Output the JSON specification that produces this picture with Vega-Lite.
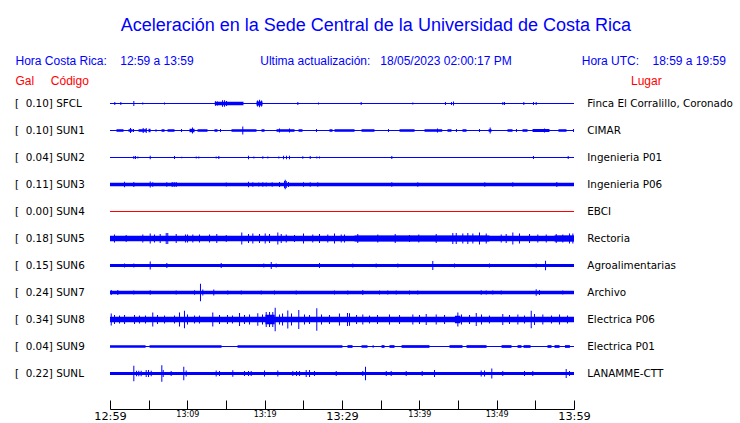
{
  "$schema": "https://vega.github.io/schema/vega-lite/v6.json",
  "width": 464,
  "height": 319,
  "autosize": {"type": "none"},
  "padding": {"left": 110, "top": 90, "right": 166, "bottom": 14},
  "background": "white",
  "title": {"text": "Aceleración en la Sede Central de la Universidad de Costa Rica", "anchor": "start", "frame": "group", "dx": 10.7, "offset": 20, "font": "Liberation Sans", "fontSize": 18, "fontWeight": "normal", "color": "#0000ff"},
  "config": {"view": {"stroke": null}, "axis": {"grid": false}},
  "datasets": {
    "bands": [
      {"s":"SFCL","t0":0,"t1":60,"a":0.015},{"s":"SFCL","t0":13.55,"t1":17.26,"a":0.05},{"s":"SFCL","t0":18.94,"t1":19.72,"a":0.06},
      {"s":"SUN1","t0":0,"t1":60,"a":0.015},
      {"s":"SUN1","t0":0.84,"t1":1.75,"a":0.037},{"s":"SUN1","t0":2.39,"t1":2.91,"a":0.037},{"s":"SUN1","t0":3.69,"t1":4.72,"a":0.037},{"s":"SUN1","t0":4.98,"t1":5.24,"a":0.05},{"s":"SUN1","t0":5.88,"t1":6.01,"a":0.037},{"s":"SUN1","t0":6.66,"t1":7.05,"a":0.037},{"s":"SUN1","t0":7.44,"t1":8.34,"a":0.037},{"s":"SUN1","t0":10.28,"t1":10.93,"a":0.05},{"s":"SUN1","t0":11.32,"t1":12.61,"a":0.037},{"s":"SUN1","t0":13.51,"t1":13.9,"a":0.037},{"s":"SUN1","t0":15.71,"t1":18.94,"a":0.037},{"s":"SUN1","t0":19.59,"t1":19.98,"a":0.037},{"s":"SUN1","t0":21.53,"t1":23.86,"a":0.037},{"s":"SUN1","t0":24.38,"t1":24.89,"a":0.037},{"s":"SUN1","t0":28.38,"t1":28.77,"a":0.037},{"s":"SUN1","t0":29.03,"t1":31.62,"a":0.037},{"s":"SUN1","t0":32.52,"t1":34.2,"a":0.037},{"s":"SUN1","t0":37.44,"t1":39.38,"a":0.037},{"s":"SUN1","t0":40.67,"t1":42.96,"a":0.037},{"s":"SUN1","t0":43.64,"t1":44.16,"a":0.037},{"s":"SUN1","t0":45.58,"t1":46.1,"a":0.037},{"s":"SUN1","t0":48.95,"t1":49.34,"a":0.037},{"s":"SUN1","t0":51.4,"t1":52.05,"a":0.037},{"s":"SUN1","t0":53.34,"t1":53.99,"a":0.037},{"s":"SUN1","t0":54.64,"t1":56.83,"a":0.044},{"s":"SUN1","t0":57.99,"t1":59.03,"a":0.037},
      {"s":"SUN2","t0":0,"t1":60,"a":0.015},
      {"s":"SUN3","t0":0,"t1":60,"a":0.05},
      {"s":"SUN4","t0":0,"t1":60,"a":0.015},
      {"s":"SUN5","t0":0,"t1":60,"a":0.081},{"s":"SUN5","t0":31.62,"t1":49.07,"a":0.09},{"s":"SUN5","t0":57.48,"t1":60,"a":0.09},
      {"s":"SUN6","t0":0,"t1":60,"a":0.044},
      {"s":"SUN7","t0":0,"t1":60,"a":0.049},
      {"s":"SUN8","t0":0,"t1":60,"a":0.078},{"s":"SUN8","t0":20.1,"t1":21.3,"a":0.14},{"s":"SUN8","t0":44.6,"t1":45.3,"a":0.11},
      {"s":"SUN9","t0":0,"t1":60,"a":0.015},
      {"s":"SUN9","t0":0,"t1":4.6,"a":0.04},{"s":"SUN9","t0":5.11,"t1":14.42,"a":0.04},{"s":"SUN9","t0":16.49,"t1":30.06,"a":0.04},{"s":"SUN9","t0":30.71,"t1":31.36,"a":0.04},{"s":"SUN9","t0":32.52,"t1":33.3,"a":0.04},{"s":"SUN9","t0":33.95,"t1":34.1,"a":0.04},{"s":"SUN9","t0":35.11,"t1":35.5,"a":0.04},{"s":"SUN9","t0":36.14,"t1":36.79,"a":0.04},{"s":"SUN9","t0":37.7,"t1":41.31,"a":0.04},{"s":"SUN9","t0":43.9,"t1":45.58,"a":0.04},{"s":"SUN9","t0":46.1,"t1":48.69,"a":0.04},{"s":"SUN9","t0":50.63,"t1":51.92,"a":0.04},{"s":"SUN9","t0":52.7,"t1":53.21,"a":0.04},{"s":"SUN9","t0":53.47,"t1":54.38,"a":0.04},{"s":"SUN9","t0":56.57,"t1":57.09,"a":0.04},{"s":"SUN9","t0":57.48,"t1":58.13,"a":0.04},{"s":"SUN9","t0":58.83,"t1":59.47,"a":0.04},
      {"s":"SUNL","t0":0,"t1":60,"a":0.044}
    ],
    "spikes": [
      {"s":"SFCL","t":0.62,"a":0.044},{"s":"SFCL","t":1.4,"a":0.044},{"s":"SFCL","t":3.08,"a":0.074},{"s":"SFCL","t":4.24,"a":0.03},{"s":"SFCL","t":7.05,"a":0.03},{"s":"SFCL","t":13.64,"a":0.066},{"s":"SFCL","t":13.9,"a":0.059},{"s":"SFCL","t":14.55,"a":0.099},{"s":"SFCL","t":14.81,"a":0.099},{"s":"SFCL","t":15.07,"a":0.074},{"s":"SFCL","t":19.08,"a":0.088},{"s":"SFCL","t":19.34,"a":0.113},{"s":"SFCL","t":19.6,"a":0.088},{"s":"SFCL","t":24.29,"a":0.044},{"s":"SFCL","t":26.96,"a":0.03},{"s":"SFCL","t":32.48,"a":0.044},{"s":"SFCL","t":39.16,"a":0.03},{"s":"SFCL","t":43.38,"a":0.044},{"s":"SFCL","t":44.16,"a":0.044},{"s":"SFCL","t":44.42,"a":0.059},{"s":"SFCL","t":50.8,"a":0.044},{"s":"SFCL","t":51.01,"a":0.044},{"s":"SFCL","t":53.51,"a":0.044},{"s":"SFCL","t":54.76,"a":0.044},{"s":"SFCL","t":55.11,"a":0.044},
      {"s":"SUN1","t":2.65,"a":0.074},{"s":"SUN1","t":4.29,"a":0.074},{"s":"SUN1","t":4.68,"a":0.074},{"s":"SUN1","t":10.67,"a":0.088},{"s":"SUN1","t":17.17,"a":0.118},{"s":"SUN1","t":49.16,"a":0.088},{"s":"SUN1","t":3.04,"a":0.044},{"s":"SUN1","t":9.25,"a":0.044},{"s":"SUN1","t":14.29,"a":0.044},{"s":"SUN1","t":26.7,"a":0.044},{"s":"SUN1","t":36.01,"a":0.044},{"s":"SUN1","t":44.8,"a":0.044},{"s":"SUN1","t":47.78,"a":0.044},{"s":"SUN1","t":52.56,"a":0.044},{"s":"SUN1","t":59.94,"a":0.044},{"s":"SUN1","t":21.92,"a":0.059},{"s":"SUN1","t":23.21,"a":0.059},{"s":"SUN1","t":42.35,"a":0.059},{"s":"SUN1","t":56.19,"a":0.059},
      {"s":"SUN2","t":3.08,"a":0.044},{"s":"SUN2","t":3.3,"a":0.044},{"s":"SUN2","t":3.6,"a":0.03},{"s":"SUN2","t":5.2,"a":0.051},{"s":"SUN2","t":8.34,"a":0.044},{"s":"SUN2","t":9.28,"a":0.022},{"s":"SUN2","t":11.15,"a":0.03},{"s":"SUN2","t":11.48,"a":0.03},{"s":"SUN2","t":13.73,"a":0.03},{"s":"SUN2","t":14.07,"a":0.044},{"s":"SUN2","t":17.91,"a":0.051},{"s":"SUN2","t":18.6,"a":0.03},{"s":"SUN2","t":19.76,"a":0.037},{"s":"SUN2","t":20.41,"a":0.03},{"s":"SUN2","t":21.83,"a":0.03},{"s":"SUN2","t":22.44,"a":0.051},{"s":"SUN2","t":22.82,"a":0.051},{"s":"SUN2","t":23.21,"a":0.051},{"s":"SUN2","t":24.93,"a":0.037},{"s":"SUN2","t":25.89,"a":0.044},{"s":"SUN2","t":26.74,"a":0.03},{"s":"SUN2","t":27.09,"a":0.03},{"s":"SUN2","t":36.44,"a":0.044},{"s":"SUN2","t":54.76,"a":0.044},{"s":"SUN2","t":59.25,"a":0.044},
      {"s":"SUN3","t":1.88,"a":0.084},{"s":"SUN3","t":3.08,"a":0.074},{"s":"SUN3","t":5.2,"a":0.088},{"s":"SUN3","t":5.53,"a":0.066},{"s":"SUN3","t":7.35,"a":0.066},{"s":"SUN3","t":8.04,"a":0.074},{"s":"SUN3","t":8.3,"a":0.074},{"s":"SUN3","t":8.56,"a":0.074},{"s":"SUN3","t":15.03,"a":0.059},{"s":"SUN3","t":17.91,"a":0.081},{"s":"SUN3","t":18.47,"a":0.066},{"s":"SUN3","t":19.24,"a":0.059},{"s":"SUN3","t":19.76,"a":0.066},{"s":"SUN3","t":20.2,"a":0.059},{"s":"SUN3","t":20.97,"a":0.066},{"s":"SUN3","t":21.92,"a":0.074},{"s":"SUN3","t":22.57,"a":0.103},{"s":"SUN3","t":22.66,"a":0.143},{"s":"SUN3","t":22.79,"a":0.103},{"s":"SUN3","t":23.08,"a":0.074},{"s":"SUN3","t":25.02,"a":0.066},{"s":"SUN3","t":25.89,"a":0.066},{"s":"SUN3","t":26.87,"a":0.066},{"s":"SUN3","t":36.44,"a":0.066},{"s":"SUN3","t":39.8,"a":0.066},{"s":"SUN3","t":48.47,"a":0.066},{"s":"SUN3","t":52.09,"a":0.066},{"s":"SUN3","t":57.78,"a":0.074},
      {"s":"SUN5","t":0.58,"a":0.118},{"s":"SUN5","t":2.09,"a":0.103},{"s":"SUN5","t":4.24,"a":0.118},{"s":"SUN5","t":5.2,"a":0.147},{"s":"SUN5","t":5.75,"a":0.118},{"s":"SUN5","t":6.49,"a":0.132},{"s":"SUN5","t":7.27,"a":0.162},{"s":"SUN5","t":7.47,"a":0.162},{"s":"SUN5","t":8.56,"a":0.132},{"s":"SUN5","t":9.76,"a":0.118},{"s":"SUN5","t":10.02,"a":0.118},{"s":"SUN5","t":10.71,"a":0.118},{"s":"SUN5","t":11.57,"a":0.118},{"s":"SUN5","t":12.87,"a":0.118},{"s":"SUN5","t":13.81,"a":0.132},{"s":"SUN5","t":15.03,"a":0.103},{"s":"SUN5","t":17.04,"a":0.176},{"s":"SUN5","t":17.91,"a":0.132},{"s":"SUN5","t":18.47,"a":0.147},{"s":"SUN5","t":19.33,"a":0.132},{"s":"SUN5","t":20.07,"a":0.147},{"s":"SUN5","t":20.63,"a":0.132},{"s":"SUN5","t":21.7,"a":0.176},{"s":"SUN5","t":22.14,"a":0.132},{"s":"SUN5","t":22.79,"a":0.118},{"s":"SUN5","t":23.86,"a":0.103},{"s":"SUN5","t":25.02,"a":0.147},{"s":"SUN5","t":26.22,"a":0.118},{"s":"SUN5","t":27.09,"a":0.132},{"s":"SUN5","t":28.16,"a":0.118},{"s":"SUN5","t":29.03,"a":0.147},{"s":"SUN5","t":29.9,"a":0.118},{"s":"SUN5","t":30.32,"a":0.118},{"s":"SUN5","t":32.04,"a":0.132},{"s":"SUN5","t":34.63,"a":0.118},{"s":"SUN5","t":36.88,"a":0.132},{"s":"SUN5","t":38.73,"a":0.103},{"s":"SUN5","t":39.93,"a":0.118},{"s":"SUN5","t":42.18,"a":0.132},{"s":"SUN5","t":44.33,"a":0.162},{"s":"SUN5","t":44.77,"a":0.162},{"s":"SUN5","t":45.62,"a":0.147},{"s":"SUN5","t":46.27,"a":0.162},{"s":"SUN5","t":46.92,"a":0.147},{"s":"SUN5","t":47.78,"a":0.176},{"s":"SUN5","t":48.65,"a":0.147},{"s":"SUN5","t":50.59,"a":0.118},{"s":"SUN5","t":51.23,"a":0.132},{"s":"SUN5","t":52.09,"a":0.176},{"s":"SUN5","t":52.95,"a":0.147},{"s":"SUN5","t":54.25,"a":0.132},{"s":"SUN5","t":55.32,"a":0.118},{"s":"SUN5","t":56.41,"a":0.118},{"s":"SUN5","t":57.7,"a":0.132},{"s":"SUN5","t":58.55,"a":0.118},{"s":"SUN5","t":59.42,"a":0.147},{"s":"SUN5","t":59.85,"a":0.147},
      {"s":"SUN6","t":1.88,"a":0.059},{"s":"SUN6","t":3.08,"a":0.059},{"s":"SUN6","t":5.2,"a":0.118},{"s":"SUN6","t":7.35,"a":0.074},{"s":"SUN6","t":14.38,"a":0.074},{"s":"SUN6","t":19.89,"a":0.059},{"s":"SUN6","t":20.85,"a":0.103},{"s":"SUN6","t":21.49,"a":0.059},{"s":"SUN6","t":27.09,"a":0.074},{"s":"SUN6","t":31.4,"a":0.059},{"s":"SUN6","t":34.42,"a":0.059},{"s":"SUN6","t":37.22,"a":0.059},{"s":"SUN6","t":41.74,"a":0.132},{"s":"SUN6","t":44.55,"a":0.059},{"s":"SUN6","t":49.07,"a":0.059},{"s":"SUN6","t":55.11,"a":0.059},{"s":"SUN6","t":56.32,"a":0.143},
      {"s":"SUN7","t":0.16,"a":0.074},{"s":"SUN7","t":1.01,"a":0.074},{"s":"SUN7","t":3.08,"a":0.059},{"s":"SUN7","t":5.2,"a":0.066},{"s":"SUN7","t":8.56,"a":0.059},{"s":"SUN7","t":10.93,"a":0.066},{"s":"SUN7","t":11.7,"a":0.254},{"s":"SUN7","t":12.0,"a":0.088},{"s":"SUN7","t":13.42,"a":0.088},{"s":"SUN7","t":15.23,"a":0.059},{"s":"SUN7","t":16.97,"a":0.059},{"s":"SUN7","t":19.55,"a":0.059},{"s":"SUN7","t":21.27,"a":0.059},{"s":"SUN7","t":24.08,"a":0.059},{"s":"SUN7","t":29.03,"a":0.059},{"s":"SUN7","t":30.75,"a":0.059},{"s":"SUN7","t":32.69,"a":0.074},{"s":"SUN7","t":34.85,"a":0.059},{"s":"SUN7","t":35.92,"a":0.059},{"s":"SUN7","t":37.01,"a":0.059},{"s":"SUN7","t":38.73,"a":0.059},{"s":"SUN7","t":39.8,"a":0.059},{"s":"SUN7","t":48.0,"a":0.066},{"s":"SUN7","t":48.65,"a":0.059},{"s":"SUN7","t":49.5,"a":0.059},{"s":"SUN7","t":50.59,"a":0.059},{"s":"SUN7","t":55.11,"a":0.099},{"s":"SUN7","t":55.54,"a":0.074},{"s":"SUN7","t":58.55,"a":0.059},
      {"s":"SUN8","t":0.16,"a":0.176},{"s":"SUN8","t":0.58,"a":0.132},{"s":"SUN8","t":1.23,"a":0.118},{"s":"SUN8","t":1.88,"a":0.132},{"s":"SUN8","t":3.17,"a":0.132},{"s":"SUN8","t":3.81,"a":0.118},{"s":"SUN8","t":4.59,"a":0.118},{"s":"SUN8","t":5.53,"a":0.206},{"s":"SUN8","t":6.14,"a":0.132},{"s":"SUN8","t":7.05,"a":0.118},{"s":"SUN8","t":8.34,"a":0.118},{"s":"SUN8","t":8.99,"a":0.206},{"s":"SUN8","t":9.63,"a":0.26},{"s":"SUN8","t":10.02,"a":0.147},{"s":"SUN8","t":10.93,"a":0.118},{"s":"SUN8","t":11.57,"a":0.118},{"s":"SUN8","t":13.29,"a":0.206},{"s":"SUN8","t":14.16,"a":0.132},{"s":"SUN8","t":15.19,"a":0.132},{"s":"SUN8","t":15.84,"a":0.118},{"s":"SUN8","t":16.75,"a":0.191},{"s":"SUN8","t":17.39,"a":0.132},{"s":"SUN8","t":18.04,"a":0.147},{"s":"SUN8","t":19.11,"a":0.187},{"s":"SUN8","t":19.72,"a":0.147},{"s":"SUN8","t":20.2,"a":0.221},{"s":"SUN8","t":20.63,"a":0.221},{"s":"SUN8","t":21.05,"a":0.221},{"s":"SUN8","t":21.36,"a":0.343},{"s":"SUN8","t":21.92,"a":0.147},{"s":"SUN8","t":22.31,"a":0.176},{"s":"SUN8","t":22.99,"a":0.265},{"s":"SUN8","t":23.47,"a":0.176},{"s":"SUN8","t":24.41,"a":0.279},{"s":"SUN8","t":25.15,"a":0.147},{"s":"SUN8","t":25.8,"a":0.132},{"s":"SUN8","t":26.74,"a":0.328},{"s":"SUN8","t":27.35,"a":0.147},{"s":"SUN8","t":28.38,"a":0.132},{"s":"SUN8","t":29.67,"a":0.176},{"s":"SUN8","t":30.71,"a":0.191},{"s":"SUN8","t":30.97,"a":0.187},{"s":"SUN8","t":31.88,"a":0.132},{"s":"SUN8","t":32.69,"a":0.147},{"s":"SUN8","t":33.56,"a":0.118},{"s":"SUN8","t":34.59,"a":0.132},{"s":"SUN8","t":36.14,"a":0.147},{"s":"SUN8","t":37.44,"a":0.132},{"s":"SUN8","t":39.16,"a":0.147},{"s":"SUN8","t":40.02,"a":0.132},{"s":"SUN8","t":40.89,"a":0.162},{"s":"SUN8","t":42.18,"a":0.147},{"s":"SUN8","t":43.26,"a":0.132},{"s":"SUN8","t":44.98,"a":0.206},{"s":"SUN8","t":45.45,"a":0.147},{"s":"SUN8","t":46.49,"a":0.132},{"s":"SUN8","t":47.36,"a":0.191},{"s":"SUN8","t":48.04,"a":0.147},{"s":"SUN8","t":49.07,"a":0.118},{"s":"SUN8","t":50.79,"a":0.162},{"s":"SUN8","t":51.66,"a":0.132},{"s":"SUN8","t":52.74,"a":0.147},{"s":"SUN8","t":53.6,"a":0.118},{"s":"SUN8","t":54.47,"a":0.26},{"s":"SUN8","t":54.89,"a":0.162},{"s":"SUN8","t":55.97,"a":0.147},{"s":"SUN8","t":57.09,"a":0.118},{"s":"SUN8","t":58.13,"a":0.147},{"s":"SUN8","t":59.16,"a":0.118},
      {"s":"SUNL","t":3.08,"a":0.231},{"s":"SUNL","t":3.43,"a":0.081},{"s":"SUNL","t":3.72,"a":0.081},{"s":"SUNL","t":4.03,"a":0.081},{"s":"SUNL","t":4.68,"a":0.103},{"s":"SUNL","t":4.98,"a":0.103},{"s":"SUNL","t":5.33,"a":0.081},{"s":"SUNL","t":6.7,"a":0.24},{"s":"SUNL","t":6.88,"a":0.103},{"s":"SUNL","t":7.91,"a":0.074},{"s":"SUNL","t":9.54,"a":0.196},{"s":"SUNL","t":9.85,"a":0.088},{"s":"SUNL","t":13.73,"a":0.088},{"s":"SUNL","t":14.16,"a":0.074},{"s":"SUNL","t":15.88,"a":0.099},{"s":"SUNL","t":17.39,"a":0.074},{"s":"SUNL","t":17.91,"a":0.074},{"s":"SUNL","t":18.26,"a":0.074},{"s":"SUNL","t":19.98,"a":0.088},{"s":"SUNL","t":21.7,"a":0.088},{"s":"SUNL","t":23.64,"a":0.074},{"s":"SUNL","t":24.12,"a":0.074},{"s":"SUNL","t":24.51,"a":0.074},{"s":"SUNL","t":25.37,"a":0.103},{"s":"SUNL","t":25.8,"a":0.103},{"s":"SUNL","t":26.44,"a":0.074},{"s":"SUNL","t":29.25,"a":0.074},{"s":"SUNL","t":32.69,"a":0.074},{"s":"SUNL","t":33.04,"a":0.196},{"s":"SUNL","t":35.72,"a":0.074},{"s":"SUNL","t":36.36,"a":0.074},{"s":"SUNL","t":38.3,"a":0.074},{"s":"SUNL","t":40.37,"a":0.074},{"s":"SUNL","t":41.96,"a":0.103},{"s":"SUNL","t":48.0,"a":0.088},{"s":"SUNL","t":48.43,"a":0.088},{"s":"SUNL","t":49.37,"a":0.147},{"s":"SUNL","t":50.79,"a":0.074},{"s":"SUNL","t":53.6,"a":0.074},{"s":"SUNL","t":54.67,"a":0.074},{"s":"SUNL","t":58.99,"a":0.132},{"s":"SUNL","t":59.42,"a":0.074}
    ]
  },
  "resolve": {"axis": {"x": "independent", "y": "independent"}},
  "layer": [
    {
      "data": {"name": "bands"},
      "mark": {"type": "bar", "opacity": 1},
      "encoding": {
        "x": {"field": "t0", "type": "quantitative", "scale": {"domain": [0, 60], "nice": false, "zero": false},
          "axis": {"orient": "bottom", "title": null, "values": [0,5,10,15,20,25,30,35,40,45,50,55,60],
            "labelExpr": "['12:59','','13:09','','13:19','','13:29','','13:39','','13:49','','13:59'][round(datum.value/5)]",
            "tickSize": -9, "tickColor": "black", "tickWidth": 1, "domainColor": "black", "domainWidth": 1,
            "labelPadding": 10.8, "labelBaseline": "top", "labelFlush": false, "labelOverlap": false, "labelBound": false,
            "labelFont": "DejaVu Sans", "labelColor": "black",
            "labelFontSize": {"condition": {"test": "datum.value % 30 === 0", "value": 11.3}, "value": 8}}},
        "x2": {"field": "t1"},
        "y": {"field": "s", "type": "nominal",
          "scale": {"type": "band", "domain": ["SFCL","SUN1","SUN2","SUN3","SUN4","SUN5","SUN6","SUN7","SUN8","SUN9","SUNL"], "paddingInner": 0, "paddingOuter": 0.4074, "align": 0},
          "axis": {"orient": "left", "ticks": false, "domain": false, "labelPadding": 95.5, "labelAlign": "left",
            "labelFont": "DejaVu Sans", "labelFontSize": 10.4, "labelColor": "black",
            "labelExpr": "['[\u00a0\u00a00.10] SFCL','[\u00a0\u00a00.10] SUN1','[\u00a0\u00a00.04] SUN2','[\u00a0\u00a00.11] SUN3','[\u00a0\u00a00.00] SUN4','[\u00a0\u00a00.18] SUN5','[\u00a0\u00a00.15] SUN6','[\u00a0\u00a00.24] SUN7','[\u00a0\u00a00.34] SUN8','[\u00a0\u00a00.04] SUN9','[\u00a0\u00a00.22] SUNL'][indexof(['SFCL','SUN1','SUN2','SUN3','SUN4','SUN5','SUN6','SUN7','SUN8','SUN9','SUNL'], datum.value)]",
            "title": "Gal\u00a0\u00a0\u00a0\u00a0\u00a0Código", "titleAngle": 0, "titleX": -95, "titleY": -5.3, "titleAlign": "left", "titleBaseline": "alphabetic",
            "titleFont": "Liberation Sans", "titleFontSize": 12, "titleFontWeight": "normal", "titleColor": "#ff0000"}},
        "size": {"field": "a", "type": "quantitative", "scale": {"domain": [0, 1], "range": [0, 68], "zero": true}, "legend": null},
        "color": {"condition": {"test": "datum.s === 'SUN4'", "value": "#ff0000"}, "value": "#0000ff"}
      }
    },
    {
      "data": {"name": "spikes"},
      "mark": {"type": "tick", "thickness": 1, "opacity": 1, "orient": "vertical"},
      "encoding": {
        "x": {"field": "t", "type": "quantitative",
          "axis": {"orient": "top", "labels": false, "ticks": false, "domain": false,
            "title": "Hora Costa Rica:\u00a0\u00a0\u00a0\u00a012:59 a 13:59\u00a0\u00a0\u00a0\u00a0\u00a0\u00a0\u00a0\u00a0\u00a0\u00a0\u00a0\u00a0\u00a0\u00a0\u00a0\u00a0\u00a0\u00a0\u00a0\u00a0Ultima actualización:\u00a0\u00a0\u00a018/05/2023 02:00:17 PM\u00a0\u00a0\u00a0\u00a0\u00a0\u00a0\u00a0\u00a0\u00a0\u00a0\u00a0\u00a0\u00a0\u00a0\u00a0\u00a0\u00a0\u00a0\u00a0\u00a0\u00a0Hora UTC:\u00a0\u00a0\u00a0\u00a018:59 a 19:59",
            "titleX": -95, "titleY": -25.3, "titleAlign": "left", "titleBaseline": "alphabetic",
            "titleFont": "Liberation Sans", "titleFontSize": 12, "titleFontWeight": "normal", "titleColor": "#0000ff"}},
        "y": {"field": "s", "type": "nominal",
          "axis": {"orient": "right", "ticks": false, "domain": false, "labelPadding": 12.8, "labelAlign": "left",
            "labelFont": "DejaVu Sans", "labelFontSize": 10.4, "labelColor": "black",
            "labelExpr": "['Finca El Corralillo, Coronado','CIMAR','Ingenieria P01','Ingenieria P06','EBCI','Rectoria','Agroalimentarias','Archivo','Electrica P06','Electrica P01','LANAMME-CTT'][indexof(['SFCL','SUN1','SUN2','SUN3','SUN4','SUN5','SUN6','SUN7','SUN8','SUN9','SUNL'], datum.value)]",
            "title": "Lugar", "titleAngle": 0, "titleX": 56.5, "titleY": -5.3, "titleAlign": "left", "titleBaseline": "alphabetic",
            "titleFont": "Liberation Sans", "titleFontSize": 12, "titleFontWeight": "normal", "titleColor": "#ff0000"}},
        "size": {"field": "a", "type": "quantitative", "legend": null},
        "color": {"condition": {"test": "datum.s === 'SUN4'", "value": "#ff0000"}, "value": "#0000ff"}
      }
    }
  ]
}
